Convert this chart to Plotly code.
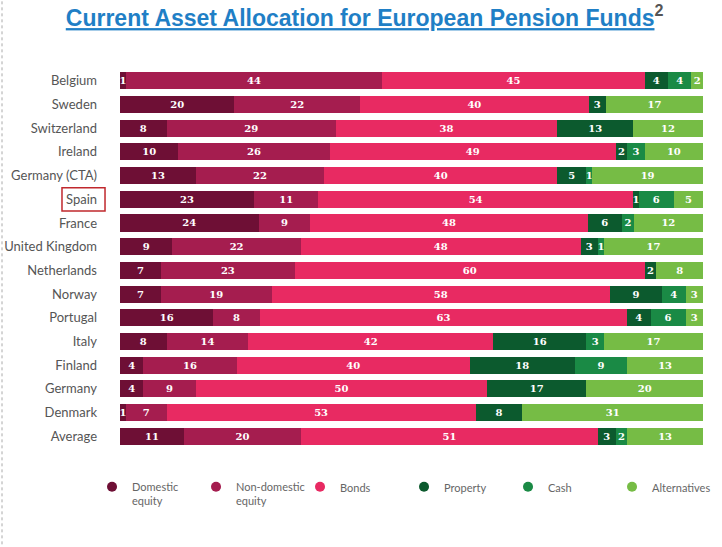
import plotly.graph_objects as go

# rows top to bottom
countries = ["Belgium", "Sweden", "Switzerland", "Ireland", "Germany (CTA)", "Spain",
             "France", "United Kingdom", "Netherlands", "Norway", "Portugal", "Italy",
             "Finland", "Germany", "Denmark", "Average"]

domestic_equity = [1, 20, 8, 10, 13, 23, 24, 9, 7, 7, 16, 8, 4, 4, 1, 11]
non_domestic_equity = [44, 22, 29, 26, 22, 11, 9, 22, 23, 19, 8, 14, 16, 9, 7, 20]
bonds = [45, 40, 38, 49, 40, 54, 48, 48, 60, 58, 63, 42, 40, 50, 53, 51]
property_ = [4, 3, 13, 2, 5, 1, 6, 3, 2, 9, 4, 16, 18, 17, 8, 3]
cash = [4, 0, 0, 3, 1, 6, 2, 1, 0, 4, 6, 3, 9, 0, 0, 2]
alternatives = [2, 17, 12, 10, 19, 5, 12, 17, 8, 3, 3, 17, 13, 20, 31, 13]

series = [
    ("Domestic equity", "Domestic<br>equity", domestic_equity, "#6e0f35"),
    ("Non-domestic equity", "Non-domestic<br>equity", non_domestic_equity, "#a51d4f"),
    ("Bonds", "Bonds", bonds, "#e82a62"),
    ("Property", "Property", property_, "#0c5a2e"),
    ("Cash", "Cash", cash, "#1a8a45"),
    ("Alternatives", "Alternatives", alternatives, "#76bc45"),
]

fig = go.Figure()

for name, legend_label, vals, color in series:
    fig.add_trace(go.Bar(
        y=countries, x=vals, orientation="h", name=name,
        marker=dict(color=color, line=dict(width=0)),
        text=[str(v) if v else "" for v in vals],
        textposition="inside", insidetextanchor="middle", textangle=0,
        cliponaxis=False,
        textfont=dict(family="DejaVu Serif", size=10, color="white", weight="bold"),
        showlegend=False,
    ))

# round legend markers
for name, legend_label, vals, color in series:
    fig.add_trace(go.Scatter(
        x=[None], y=[None], mode="markers", name=legend_label,
        marker=dict(color=color, size=10, symbol="circle"),
    ))

# box around Spain label
fig.add_shape(type="rect", xref="paper", yref="y",
              x0=-0.0995, x1=-0.0257, y0=5 - 0.49, y1=5 + 0.49,
              line=dict(color="#c0282d", width=1.5))
# dotted page edge
fig.add_shape(type="line", xref="paper", yref="paper",
              x0=-0.2024, x1=-0.2024, y0=-0.27, y1=1.19,
              line=dict(color="#aaaaaa", width=1, dash="dot"))

fig.update_layout(
    width=722, height=547,
    margin=dict(l=120, r=19, t=69, b=99, autoexpand=False),
    paper_bgcolor="white", plot_bgcolor="white",
    barmode="stack", barnorm="percent", bargap=0.28,
    uniformtext=dict(minsize=10, mode="show"),
    title=dict(
        text="<u>Current Asset Allocation for European Pension Funds</u>"
             "<sup><span style='color:#555555'>2</span></sup>",
        x=0.505, xref="container", xanchor="center",
        y=0.967, yref="container", yanchor="middle",
        font=dict(family="Liberation Sans", size=23, color="#1f7fc6", weight="bold"),
    ),
    xaxis=dict(visible=False, range=[0, 100], fixedrange=True),
    yaxis=dict(
        categoryorder="array", categoryarray=countries, autorange="reversed",
        showgrid=False, showline=False, ticks="", ticklabelstandoff=22,
        automargin=False, fixedrange=True,
        tickfont=dict(family="Lato", size=13, color="#555555"),
    ),
    legend=dict(
        orientation="h", x=-0.048, xanchor="left", y=-0.066, yanchor="top",
        entrywidth=59, entrywidthmode="pixels", valign="top", itemwidth=30,
        traceorder="normal",
        font=dict(family="Lato", size=11, color="#666666"),
        itemclick=False,
    ),
)

fig.write_html("out.html", config={"displayModeBar": False},
               post_script="document.body.style.margin='0';")
